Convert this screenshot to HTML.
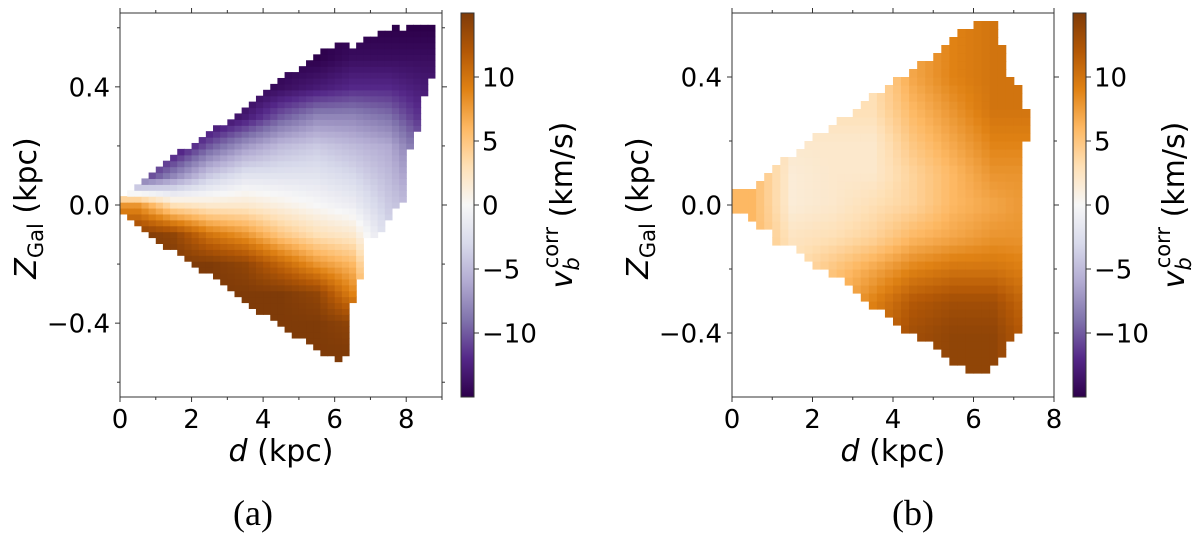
<!DOCTYPE html>
<html><head><meta charset="utf-8">
<style>
html,body{margin:0;padding:0;background:#fff;}
svg{display:block;}
text{font-family:"DejaVu Sans","Liberation Sans",sans-serif;fill:#000;}
.cap{font-family:"Liberation Serif",serif;}
</style></head>
<body>
<svg id="fig" width="1200" height="551" viewBox="0 0 1200 551" xmlns="http://www.w3.org/2000/svg">
<defs>
<linearGradient id="cbgrad" x1="0" y1="1" x2="0" y2="0">
<stop offset="0" stop-color="#2d004b"/><stop offset="0.1" stop-color="#542788"/><stop offset="0.2" stop-color="#8073ac"/><stop offset="0.3" stop-color="#b2abd2"/><stop offset="0.4" stop-color="#d8daeb"/><stop offset="0.5" stop-color="#f7f7f7"/><stop offset="0.6" stop-color="#fee0b6"/><stop offset="0.7" stop-color="#fdb863"/><stop offset="0.8" stop-color="#e08214"/><stop offset="0.9" stop-color="#b35806"/><stop offset="1" stop-color="#7f3b08"/>
</linearGradient>
</defs>
<g id="panelA"></g>
<g id="panelB"></g>
<text class="cap" x="253" y="525" font-size="36" text-anchor="middle">(a)</text>
<text class="cap" x="913" y="525" font-size="36" text-anchor="middle">(b)</text>
</svg>
<script>
// ---- data: panel (a) ----
const aDistBins = [0.1,0.3,0.5,0.7,0.9,1.1,1.3,1.5,1.7,1.9,2.1,2.3,2.5,2.7,2.9,3.1,3.3,3.5,3.7,3.9,4.1,4.3,4.5,4.7,4.9,5.1,5.3,5.5,5.7,5.9,6.1,6.3,6.5,6.7,6.9,7.1,7.3,7.5,7.7,7.9,8.1,8.3,8.5,8.7];
const aZTop = [0.03,0.05,0.07,0.09,0.10,0.12,0.14,0.16,0.18,0.19,0.21,0.23,0.24,0.26,0.27,0.29,0.31,0.33,0.35,0.37,0.39,0.41,0.42,0.44,0.45,0.47,0.48,0.50,0.52,0.53,0.55,0.55,0.53,0.54,0.56,0.56,0.58,0.59,0.60,0.58,0.60,0.61,0.61,0.60];
const aZBot = [-0.02,-0.03,-0.05,-0.07,-0.09,-0.11,-0.13,-0.14,-0.16,-0.18,-0.19,-0.21,-0.22,-0.24,-0.26,-0.28,-0.30,-0.31,-0.33,-0.35,-0.36,-0.38,-0.40,-0.41,-0.43,-0.44,-0.46,-0.47,-0.49,-0.50,-0.52,-0.50,-0.32,-0.24,-0.10,-0.09,-0.08,-0.03,0.00,0.02,0.20,0.26,0.38,0.45];
const zLevels = [-0.5,-0.4,-0.3,-0.2,-0.1,0,0.1,0.2,0.3,0.4,0.5,0.6];
const aGroupD = [0.5,1.5,2.5,3.5,4.5,5.5,6.5,7.5,8.5];
const aValues = [
 [15,15,15,15,15,8,-12,-15,-15,-15,-15,-15],
 [15,15,15,15,14,3,-8,-14,-15,-15,-15,-15],
 [15,15,15,15,10,2,-4,-10,-15,-15,-15,-15],
 [15,15,15,14,8,2,-2,-7,-13,-15,-15,-15],
 [15,15,15,11,5,1,-2,-5,-10,-14,-15,-15],
 [15,15,14,8,3,0,-2,-4,-8,-13,-15,-15],
 [15,14,9,6,2,-1,-3,-5,-8,-12,-14,-15],
 [-3,-3,-3,-3,-3,-4,-5,-6,-9,-12,-14,-15],
 [-5,-5,-5,-5,-5,-6,-8,-10,-12,-13,-14,-15]
];
// ---- data: panel (b) ----
const bDistBins = [0.1,0.3,0.5,0.7,0.9,1.1,1.3,1.5,1.7,1.9,2.1,2.3,2.5,2.7,2.9,3.1,3.3,3.5,3.7,3.9,4.1,4.3,4.5,4.7,4.9,5.1,5.3,5.5,5.7,5.9,6.1,6.3,6.5,6.7,6.9,7.1,7.3];
const bZTop = [0.03,0.04,0.05,0.07,0.09,0.12,0.13,0.15,0.17,0.19,0.21,0.22,0.24,0.26,0.27,0.29,0.31,0.33,0.34,0.36,0.38,0.40,0.41,0.43,0.45,0.47,0.49,0.51,0.53,0.55,0.56,0.57,0.56,0.48,0.40,0.37,0.28];
const bZBot = [-0.02,-0.02,-0.04,-0.05,-0.07,-0.10,-0.11,-0.12,-0.14,-0.16,-0.18,-0.19,-0.21,-0.22,-0.24,-0.26,-0.28,-0.30,-0.32,-0.34,-0.36,-0.38,-0.39,-0.40,-0.42,-0.44,-0.46,-0.48,-0.49,-0.50,-0.51,-0.52,-0.49,-0.46,-0.40,-0.38,0.22];
const bGroupD = [0.5,1.5,2.5,3.5,4.5,5.5,6.5,7.5];
const bValues = [
 [6,6,6,6,6,6,6,6,6,6,6,6],
 [3,3,3,3,2.5,1.5,1.5,2,3,3,3,3],
 [6,6,6,5,3,2,2,2,3,3,3,3],
 [10,10,9,7,4,3,2,2,3,3,3,3],
 [13,13,12,9,6,4,4,5,6,7,7,7],
 [14,14,13,10,7,6,6,7,8,9,9,9],
 [14,14,13,10,8,7,8,9,10,10,10,10],
 [11,11,10,9,8,8,8,9,10,10,10,10]
];
const xTicksA = [0,2,4,6,8], xMinorA=[1,3,5,7,9];
const xTicksB = [0,2,4,6,8], xMinorB=[1,3,5,7];
const yTicks = [-0.4,0.0,0.4], yLabels=["\u22120.4","0.0","0.4"];
const yMinorA=[-0.6,-0.2,0.2,0.6], yMinorB=[-0.2,0.2];
const cbTicks=[-10,-5,0,5,10], cbLabels=["\u221210","\u22125","0","5","10"];

const NS="http://www.w3.org/2000/svg";
const stops=[[45,0,75],[84,39,136],[128,115,172],[178,171,210],[216,218,235],[247,247,247],[254,224,182],[253,184,99],[224,130,20],[179,88,6],[127,59,8]];
function cmap(v){
  let t=(Math.max(-15,Math.min(15,v))+15)/30*10;
  let i=Math.min(9,Math.floor(t)),f=t-i;
  const a=stops[i],b=stops[i+1];
  return `rgb(${Math.round(a[0]+(b[0]-a[0])*f)},${Math.round(a[1]+(b[1]-a[1])*f)},${Math.round(a[2]+(b[2]-a[2])*f)})`;
}
function interp(xs,ys,x){
  if(x<=xs[0])return ys[0]; if(x>=xs[xs.length-1])return ys[ys.length-1];
  for(let i=0;i<xs.length-1;i++){if(x<=xs[i+1]){const f=(x-xs[i])/(xs[i+1]-xs[i]);return ys[i]+(ys[i+1]-ys[i])*f;}}
}
function valueAt(gd,vals,d,z){
  const atZ=vals.map(row=>interp(zLevels,row,z));
  return interp(gd,atZ,d);
}
function mk(tag,attrs,parent){const e=document.createElementNS(NS,tag);for(const k in attrs)e.setAttribute(k,attrs[k]);parent.appendChild(e);return e;}

function panel(g,cfg){
  const {x0,x1,y0,y1,dMax,zMin,zMax,dz,dd,bins,tops,bots,gd,vals,xt,xm,ym,cbx,ylx,cbLx}=cfg;
  const X=d=>x0+(d/dMax)*(x1-x0);
  const Y=z=>y1-(z-zMin)/(zMax-zMin)*(y1-y0);
  const cells=mk('g',{},g);
  
  
  for(let i=0;i<bins.length;i++){
    const d=bins[i],top=tops[i],bot=bots[i];
    for(let zc=zMin+dz/2; zc<zMax; zc+=dz){
      if(zc<bot-dz*0.5||zc>top+dz*0.5) continue;
      const v=valueAt(gd,vals,d,zc);
      const r=mk('rect',{x:X(d-dd/2).toFixed(2),y:Y(zc+dz/2).toFixed(2),width:(X(dd)-X(0)+0.6).toFixed(2),height:(Y(0)-Y(dz)+0.6).toFixed(2),fill:cmap(v)},cells);
      
      
    }
  }
  const fr=mk('rect',{x:x0,y:y0,width:x1-x0,height:y1-y0,fill:'none',stroke:'#333','stroke-width':1},g);
  
  
  const ax=mk('g',{stroke:'#333','stroke-width':1},g);
  
  
  xt.forEach(d=>{const x=X(d);mk('line',{x1:x,x2:x,y1:y1,y2:y1+5},ax);mk('line',{x1:x,x2:x,y1:y0,y2:y0-5},ax);
    const t=mk('text',{x:x,y:428,'font-size':26,'text-anchor':'middle',stroke:'none'},g);t.textContent=String(d);
    
    });
  xm.forEach(d=>{const x=X(d);mk('line',{x1:x,x2:x,y1:y1,y2:y1+3},ax);mk('line',{x1:x,x2:x,y1:y0,y2:y0-3},ax);});
  yTicks.forEach((z,i)=>{const y=Y(z);mk('line',{x1:x0-5,x2:x0,y1:y,y2:y},ax);mk('line',{x1:x1,x2:x1+5,y1:y,y2:y},ax);
    const t=mk('text',{x:x0-10,y:y+9.5,'font-size':26,'text-anchor':'end',stroke:'none'},g);t.textContent=yLabels[i];
    
    });
  ym.forEach(z=>{const y=Y(z);mk('line',{x1:x0-3,x2:x0,y1:y,y2:y},ax);mk('line',{x1:x1,x2:x1+3,y1:y,y2:y},ax);});
  const xl=mk('text',{x:(x0+x1)/2,y:461,'font-size':30,'text-anchor':'middle'},g);
  xl.innerHTML='<tspan font-style="italic">d</tspan> (kpc)';
  
  
  const yl=mk('text',{x:0,y:0,'font-size':30,'text-anchor':'middle',transform:`translate(${ylx},208) rotate(-90)`},g);
  yl.innerHTML='<tspan font-style="italic">Z</tspan><tspan font-size="21" dy="7">Gal</tspan><tspan dy="-7"> (kpc)</tspan>';
  
  
  const cb=mk('rect',{x:cbx,y:13,width:13,height:384,fill:'url(#cbgrad)',stroke:'#333','stroke-width':1},g);
  
  
  const CY=v=>397-(v+15)/30*384;
  cbTicks.forEach((v,i)=>{const y=CY(v);mk('line',{x1:cbx+13,x2:cbx+18,y1:y,y2:y,stroke:'#333'},g);
    const t=mk('text',{x:cbx+21,y:y+9.5,'font-size':26},g);t.textContent=cbLabels[i];
    
    });
  const cl=mk('text',{x:0,y:0,'font-size':30,'text-anchor':'middle',transform:`translate(${cbLx},205) rotate(-90)`},g);
  cl.innerHTML='<tspan font-style="italic">v</tspan><tspan font-style="italic" font-size="21" dy="7">b</tspan><tspan font-size="21" dy="-21" dx="-11">corr</tspan><tspan dy="14"> (km/s)</tspan>';
  
  
}
panel(document.getElementById('panelA'),{x0:120,x1:442,y0:13,y1:397,dMax:9,zMin:-0.65,zMax:0.65,dz:0.02,dd:0.2,
  bins:aDistBins,tops:aZTop,bots:aZBot,gd:aGroupD,vals:aValues,xt:xTicksA,xm:xMinorA,ym:yMinorA,cbx:461,ylx:36,cbLx:572});
panel(document.getElementById('panelB'),{x0:732,x1:1054,y0:13,y1:397,dMax:8,zMin:-0.6,zMax:0.6,dz:0.025,dd:0.2,
  bins:bDistBins,tops:bZTop,bots:bZBot,gd:bGroupD,vals:bValues,xt:xTicksB,xm:xMinorB,ym:yMinorB,cbx:1073,ylx:648,cbLx:1184});
</script>
</body></html>
